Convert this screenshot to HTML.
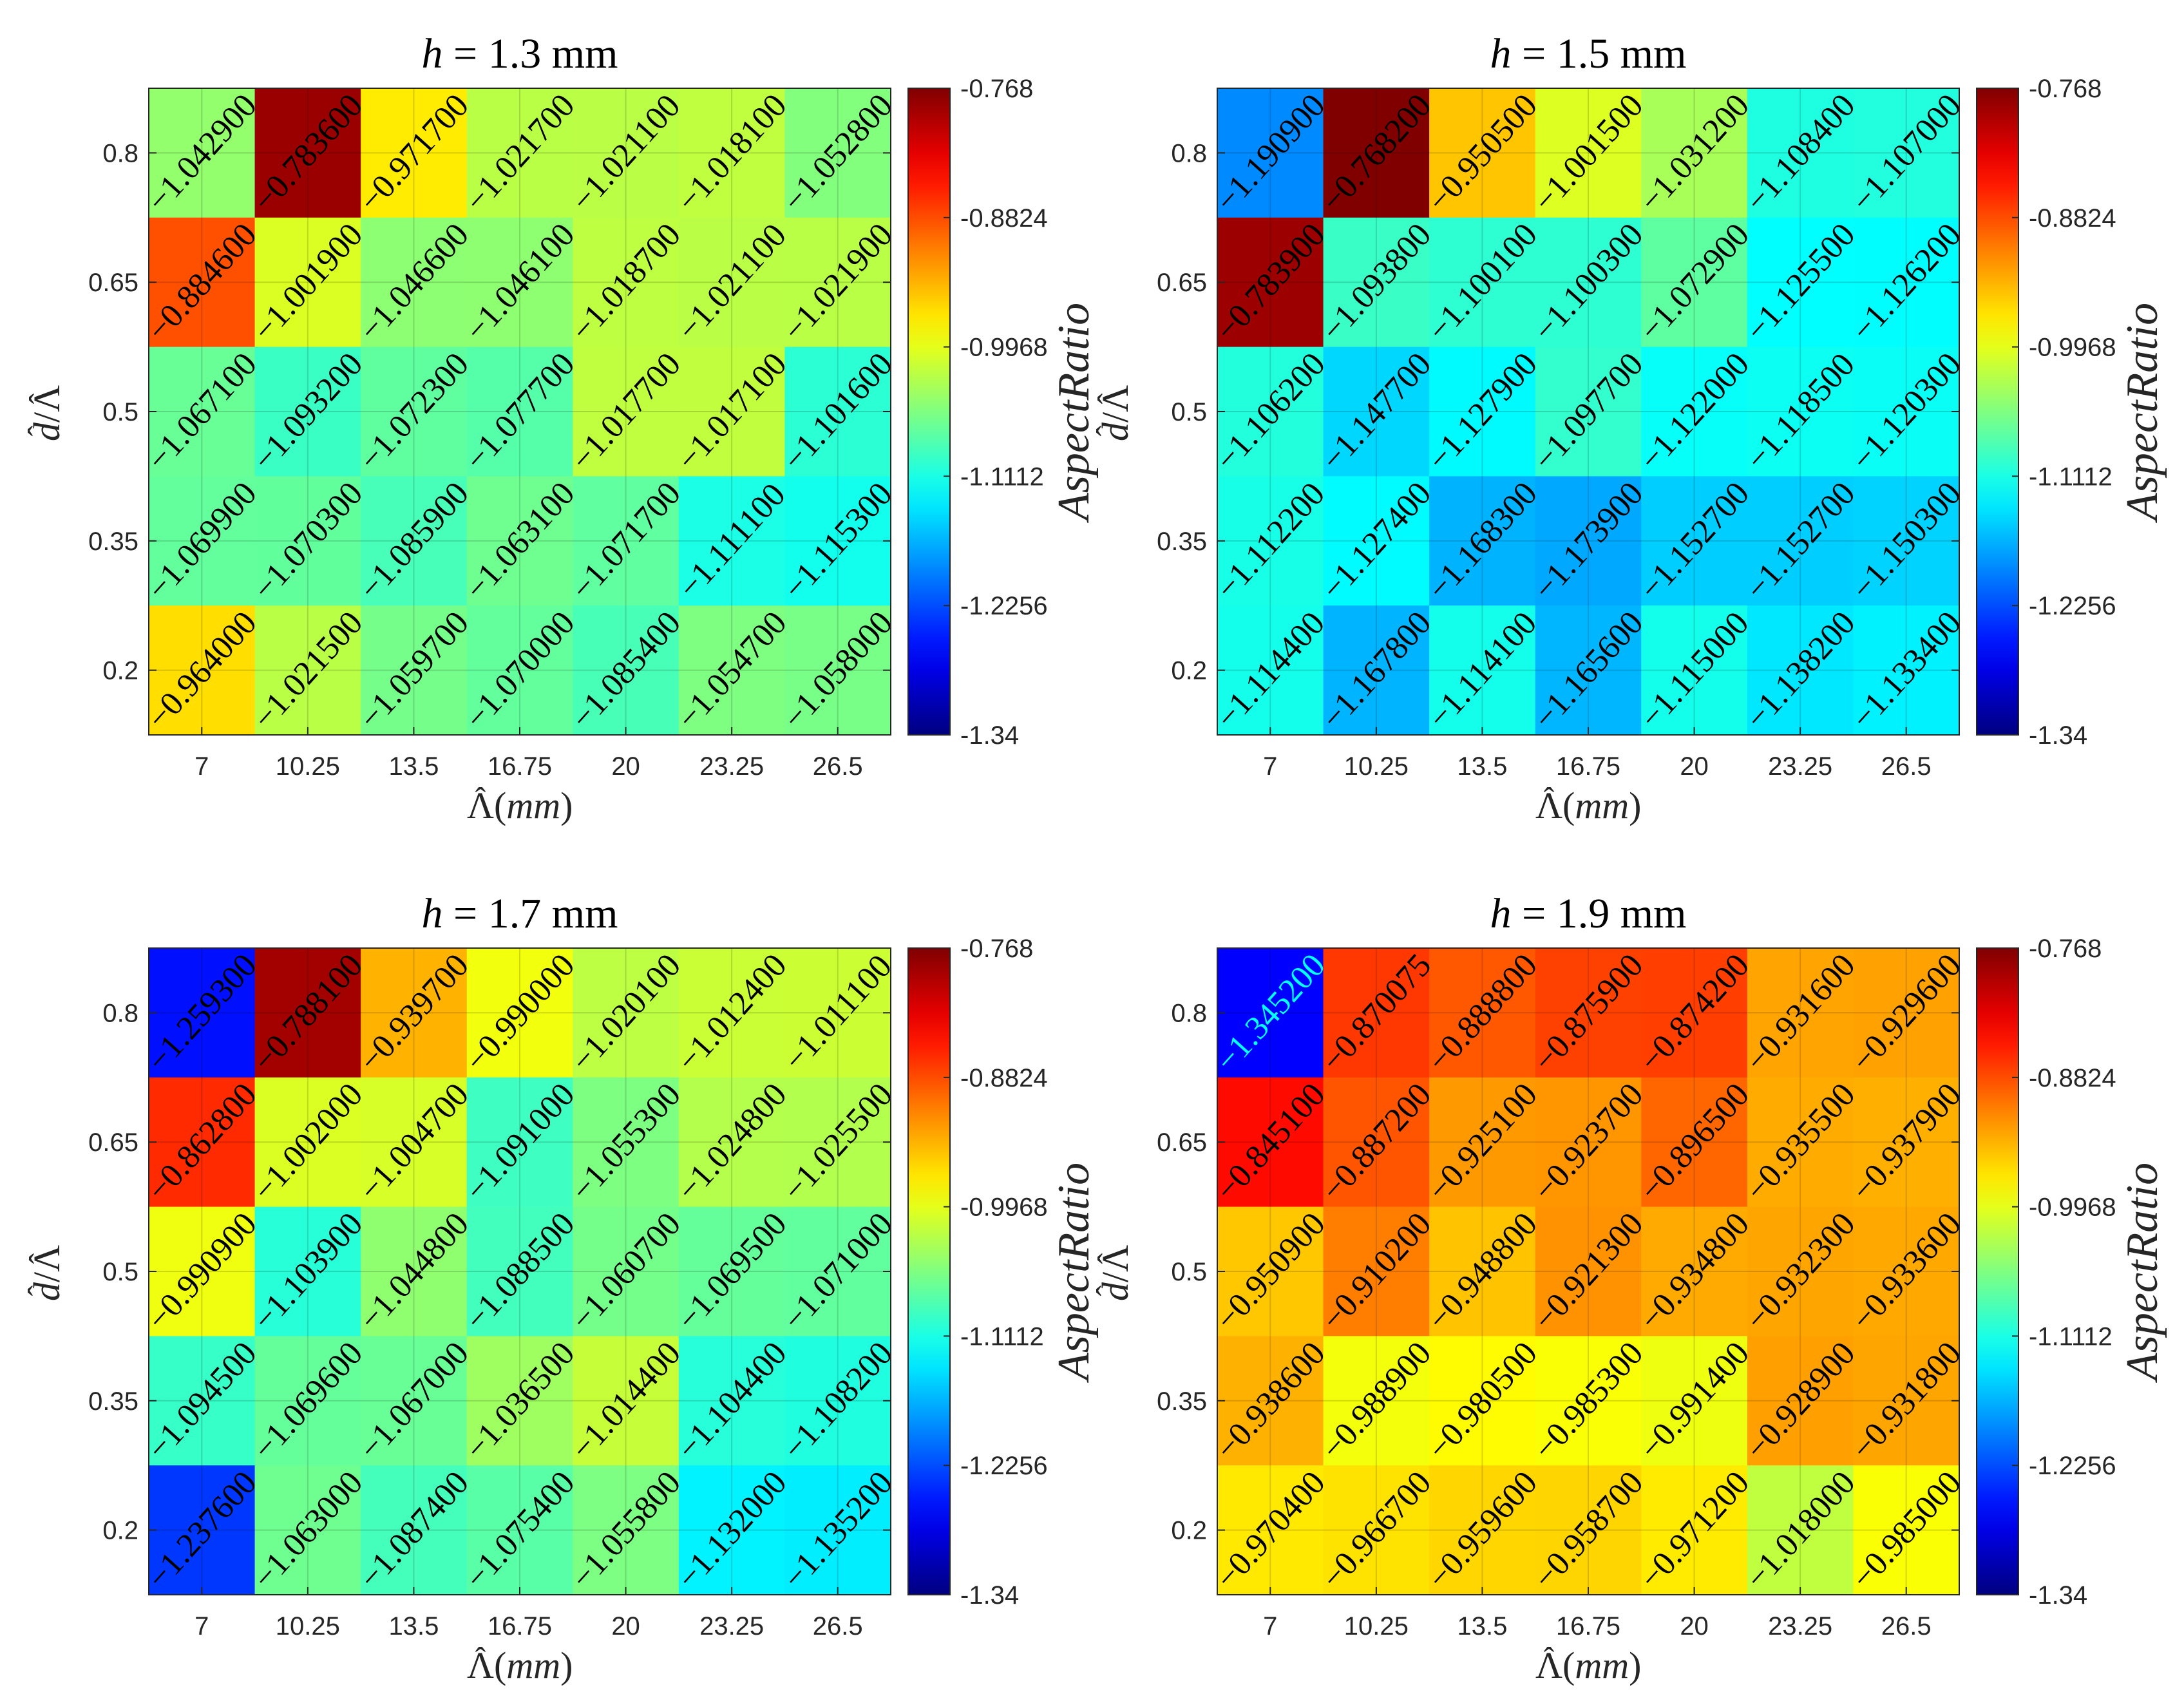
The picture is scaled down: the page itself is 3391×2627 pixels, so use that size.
<!DOCTYPE html>
<html><head><meta charset="utf-8">
<style>
html,body{margin:0;padding:0;background:#fff;}
svg{display:block;}
</style></head>
<body>
<svg id="fig" xmlns="http://www.w3.org/2000/svg" width="3391" height="2627" viewBox="0 0 3391 2627">
<rect width="3391" height="2627" fill="#fff"/>
</svg>
<script>
const xCategories = ["7","10.25","13.5","16.75","20","23.25","26.5"];
const yCategories = ["0.8","0.65","0.5","0.35","0.2"];
const panelTitles = ["1.3","1.5","1.7","1.9"];
const cbarTicks = [-0.768,-0.8824,-0.9968,-1.1112,-1.2256,-1.34];
const cbarTickLabels = ["-0.768","-0.8824","-0.9968","-1.1112","-1.2256","-1.34"];
const cMin = -1.34, cMax = -0.768;
const valuesH13 = [
 [-1.0429,-0.7836,-0.9717,-1.0217,-1.0211,-1.0181,-1.0528],
 [-0.8846,-1.0019,-1.0466,-1.0461,-1.0187,-1.0211,-1.0219],
 [-1.0671,-1.0932,-1.0723,-1.0777,-1.0177,-1.0171,-1.1016],
 [-1.0699,-1.0703,-1.0859,-1.0631,-1.0717,-1.1111,-1.1153],
 [-0.9640,-1.0215,-1.0597,-1.0700,-1.0854,-1.0547,-1.0580]];
const valuesH15 = [
 [-1.1909,-0.7682,-0.9505,-1.0015,-1.0312,-1.1084,-1.1070],
 [-0.7839,-1.0938,-1.1001,-1.1003,-1.0729,-1.1255,-1.1262],
 [-1.1062,-1.1477,-1.1279,-1.0977,-1.1220,-1.1185,-1.1203],
 [-1.1122,-1.1274,-1.1683,-1.1739,-1.1527,-1.1527,-1.1503],
 [-1.1144,-1.1678,-1.1141,-1.1656,-1.1150,-1.1382,-1.1334]];
const valuesH17 = [
 [-1.2593,-0.7881,-0.9397,-0.9900,-1.0201,-1.0124,-1.0111],
 [-0.8628,-1.0020,-1.0047,-1.0910,-1.0553,-1.0248,-1.0255],
 [-0.9909,-1.1039,-1.0448,-1.0885,-1.0607,-1.0695,-1.0710],
 [-1.0945,-1.0696,-1.0670,-1.0365,-1.0144,-1.1044,-1.1082],
 [-1.2376,-1.0630,-1.0874,-1.0754,-1.0558,-1.1320,-1.1352]];
const valuesH19 = [
 [-1.3452,-0.870075,-0.8888,-0.8759,-0.8742,-0.9316,-0.9296],
 [-0.8451,-0.8872,-0.9251,-0.9237,-0.8965,-0.9355,-0.9379],
 [-0.9509,-0.9102,-0.9488,-0.9213,-0.9348,-0.9323,-0.9336],
 [-0.9386,-0.9889,-0.9805,-0.9853,-0.9914,-0.9289,-0.9318],
 [-0.9704,-0.9667,-0.9596,-0.9587,-0.9712,-1.0180,-0.9850]];
const allValues = [valuesH13, valuesH15, valuesH17, valuesH19];

const NS = "http://www.w3.org/2000/svg";
const svg = document.getElementById("fig");
function mk(tag, attrs, parent){ const e=document.createElementNS(NS,tag); for(const k in attrs) e.setAttribute(k,attrs[k]); (parent||svg).appendChild(e); return e; }
function jet(t){ t=Math.max(0,Math.min(1,t)); const c=v=>Math.round(255*Math.max(0,Math.min(1,v)));
  return `rgb(${c(1.5-Math.abs(4*t-3))},${c(1.5-Math.abs(4*t-2))},${c(1.5-Math.abs(4*t-1))})`; }
function fmt(v){ return "\u2212"+Math.abs(v).toFixed(6); }

const offsets = [[0,0],[1659,0],[0,1335],[1659,1335]];
const L=231,R=1383,T=137,B=1141,CL=1410,CR=1475;
const nx=xCategories.length, ny=yCategories.length;
const cw=(R-L)/nx, ch=(B-T)/ny;
const xPos=i=>L+cw*(i+0.5), yPos=j=>T+ch*(j+0.5);
const cbY=v=>T+(cMax-v)/(cMax-cMin)*(B-T);
const SERIF="Liberation Serif, serif";

allValues.forEach((vals,p)=>{
  const [ox,oy]=offsets[p];
  const g=mk("g",{transform:`translate(${ox},${oy})`});
  
  
  vals.forEach((row,j)=>row.forEach((v,i)=>{
    const t=Math.max(0.125,(v-cMin)/(cMax-cMin));
    const r=mk("rect",{x:L+cw*i,y:T+ch*j,width:cw+0.6,height:ch+0.6,fill:jet(t)},g);
    
    
  }));
  xCategories.forEach((c,i)=>{ const l=mk("line",{x1:xPos(i),x2:xPos(i),y1:T,y2:B,stroke:"rgba(0,0,0,0.15)","stroke-width":2},g);
     
    mk("line",{x1:xPos(i),x2:xPos(i),y1:B,y2:B-12,stroke:"#262626","stroke-width":2},g);
    const t=mk("text",{x:xPos(i),y:1203,"text-anchor":"middle","font-family":"Liberation Sans, sans-serif","font-size":40,fill:"#262626"},g); t.textContent=c;
      });
  yCategories.forEach((c,j)=>{ const l=mk("line",{x1:L,x2:R,y1:yPos(j),y2:yPos(j),stroke:"rgba(0,0,0,0.15)","stroke-width":2},g);
     
    mk("line",{x1:L,x2:L+12,y1:yPos(j),y2:yPos(j),stroke:"#262626","stroke-width":2},g);
    mk("line",{x1:R,x2:R-12,y1:yPos(j),y2:yPos(j),stroke:"#262626","stroke-width":2},g);
    const t=mk("text",{x:215,y:yPos(j)+14,"text-anchor":"end","font-family":"Liberation Sans, sans-serif","font-size":40,fill:"#262626"},g); t.textContent=c;
      });
  vals.forEach((row,j)=>row.forEach((v,i)=>{
    const cx=xPos(i), cy=yPos(j);
    const t=mk("text",{x:cx,y:cy+17,"text-anchor":"middle","font-family":SERIF,"font-size":52,fill:(v<-1.3?"#00ffff":"#000"),transform:`rotate(-48 ${cx} ${cy})`},g);
    t.textContent=fmt(v);
     
  }));
  const ax=mk("rect",{x:L,y:T,width:R-L,height:B-T,fill:"none",stroke:"#262626","stroke-width":2},g);
   
  const ti=mk("text",{x:(L+R)/2,y:105,"text-anchor":"middle","font-family":SERIF,"font-size":66,fill:"#000"},g);
  ti.innerHTML=`<tspan font-style="italic">h</tspan> = ${panelTitles[p]} mm`;
   
  const x0=(L+R)/2-82;
  const xl=mk("text",{x:x0,y:1270,"font-family":SERIF,"font-size":58,fill:"#262626"},g);
  xl.innerHTML=`\u039B(<tspan font-style="italic">mm</tspan>)`;
   
  mk("text",{x:x0+21,y:1257,"text-anchor":"middle","font-family":SERIF,"font-size":50,fill:"#262626"},g).textContent="\u02C6";
  const yg=mk("g",{transform:`translate(92 ${(T+B)/2}) rotate(-90)`},g);
   
  const yl=mk("text",{x:-46,y:0,"font-family":SERIF,"font-size":58,fill:"#262626"},yg);
  yl.innerHTML=`<tspan font-style="italic">d</tspan>/\u039B`;
  mk("text",{x:-30,y:-14,"text-anchor":"middle","font-family":SERIF,"font-size":50,fill:"#262626"},yg).textContent="\u02C6";
  mk("text",{x:20,y:-12,"text-anchor":"middle","font-family":SERIF,"font-size":50,fill:"#262626"},yg).textContent="\u02C6";
  const defs=mk("defs",{},g);
  const grad=mk("linearGradient",{id:"jg"+p,x1:0,y1:1,x2:0,y2:0},defs);
  for(let k=0;k<=20;k++){ mk("stop",{offset:k/20,"stop-color":jet(k/20)},grad); }
  const cb=mk("rect",{x:CL,y:T,width:CR-CL,height:B-T,fill:`url(#jg${p})`,stroke:"#262626","stroke-width":2},g);
   
  cbarTicks.forEach((v,k)=>{
    mk("line",{x1:CR-10,x2:CR,y1:cbY(v),y2:cbY(v),stroke:"#262626","stroke-width":2},g);
    const t=mk("text",{x:CR+16,y:cbY(v)+14,"font-family":"Liberation Sans, sans-serif","font-size":40,fill:"#262626"},g);
    t.textContent=cbarTickLabels[k];
     
  });
  const cl=mk("text",{x:0,y:0,"text-anchor":"middle","font-family":SERIF,"font-size":70,"font-style":"italic",fill:"#262626",transform:`translate(1690 ${(T+B)/2}) rotate(-90)`},g);
  cl.textContent="AspectRatio";
   
});
</script>
</body></html>
